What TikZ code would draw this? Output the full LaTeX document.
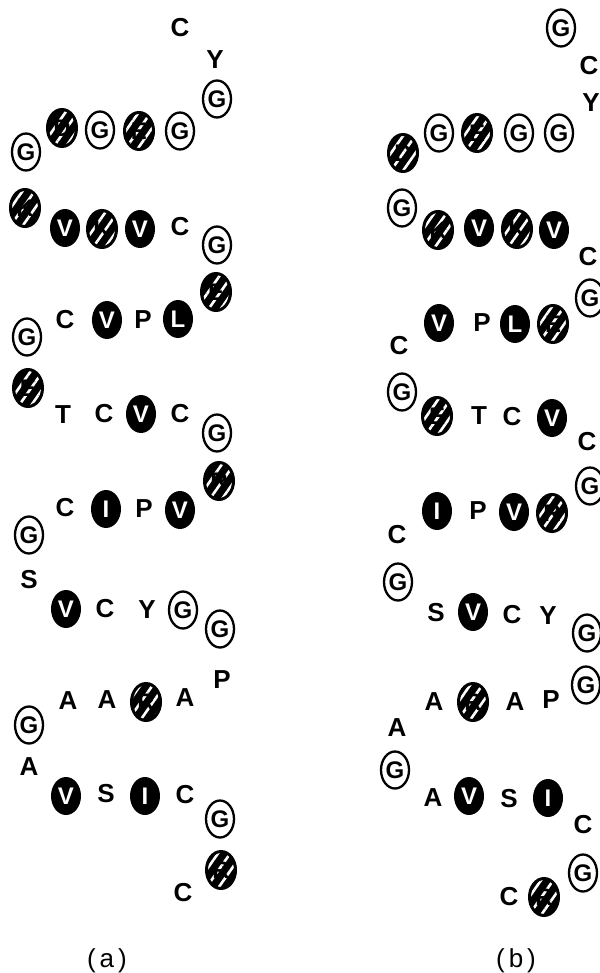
\documentclass[tikz,border=0pt]{standalone}
\usepackage{fontspec}
\setmainfont{Liberation Sans}
\usetikzlibrary{shapes.geometric,patterns.meta}
\newcommand{\ltfont}{\fontsize{26}{26}\selectfont\bfseries}
\newcommand{\infont}{\fontsize{24}{24}\selectfont\bfseries}
\newcommand{\lbfont}{\fontsize{26}{26}\selectfont}
\tikzset{
  lt/.style={font=\ltfont, inner sep=0pt},
  cg/.style={ellipse, draw, line width=2.3pt, minimum width=28pt, minimum height=37pt, inner sep=0pt, font=\infont},
  fb/.style={ellipse, fill=black, text=white, minimum width=30pt, minimum height=38pt, inner sep=0pt, font=\infont},
  hb/.style={ellipse, preaction={fill=black}, pattern={Lines[angle=55,distance=10pt,line width=2.6pt]}, pattern color=white, draw, line width=3pt, minimum width=29pt, minimum height=37pt, inner sep=0pt, font=\infont},
  lbl/.style={font=\lbfont, inner sep=0pt}
}
\begin{document}
\begin{tikzpicture}[x=1pt,y=-1pt]
\useasboundingbox (0,0) rectangle (599,973);
% ---------------- panel (a)
\node[lt] (a1) at (180,28) {C};
\node[lt] (a2) at (215,60) {Y};
\node[cg] (a3) at (217,99) {G};
\node[cg] (a4) at (180,131) {G};
\node[hb] (a5) at (139,131) {E};
\node[cg] (a6) at (100,130) {G};
\node[hb] (a7) at (62,128) {D};
\node[cg] (a8) at (26,152) {G};
\node[hb] (a9) at (25,208) {K};
\node[fb] (a10) at (65,228) {V};
\node[hb] (a11) at (102,229) {K};
\node[fb] (a12) at (140,229) {V};
\node[lt] (a13) at (180,227) {C};
\node[cg] (a14) at (217,245) {G};
\node[hb] (a15) at (216,292) {E};
\node[fb] (a16) at (178,319) {L};
\node[lt] (a17) at (143,320) {P};
\node[fb] (a18) at (107,320) {V};
\node[lt] (a19) at (65,320) {C};
\node[cg] (a20) at (27,337) {G};
\node[hb] (a21) at (28,388) {E};
\node[lt] (a22) at (63,415) {T};
\node[lt] (a23) at (104,414) {C};
\node[fb] (a24) at (141,414) {V};
\node[lt] (a25) at (180,414) {C};
\node[cg] (a26) at (217,433) {G};
\node[hb] (a27) at (219,481) {R};
\node[fb] (a28) at (180,510) {V};
\node[lt] (a29) at (144,509) {P};
\node[fb] (a30) at (106,509) {I};
\node[lt] (a31) at (65,508) {C};
\node[cg] (a32) at (29,535) {G};
\node[lt] (a33) at (29,580) {S};
\node[fb] (a34) at (66,609) {V};
\node[lt] (a35) at (105,609) {C};
\node[lt] (a36) at (147,610) {Y};
\node[cg] (a37) at (183,610) {G};
\node[cg] (a38) at (220,629) {G};
\node[lt] (a39) at (222,680) {P};
\node[lt] (a40) at (185,698) {A};
\node[hb] (a41) at (146,702) {R};
\node[lt] (a42) at (107,700) {A};
\node[lt] (a43) at (68,701) {A};
\node[cg] (a44) at (29,725) {G};
\node[lt] (a45) at (29,767) {A};
\node[fb] (a46) at (66,796) {V};
\node[lt] (a47) at (106,794) {S};
\node[fb] (a48) at (145,796) {I};
\node[lt] (a49) at (185,795) {C};
\node[cg] (a50) at (220,819) {G};
\node[hb] (a51) at (221,870) {R};
\node[lt] (a52) at (183,893) {C};
\node[lbl] (la) at (107,961) {(\hspace{4pt}a\hspace{4pt})};
% ---------------- panel (b)
\node[cg] (b1) at (561,28) {G};
\node[lt] (b2) at (589,66) {C};
\node[lt] (b3) at (591,103) {Y};
\node[cg] (b4) at (559,133) {G};
\node[cg] (b5) at (519,133) {G};
\node[hb] (b6) at (477,133) {E};
\node[cg] (b7) at (439,133) {G};
\node[hb] (b8) at (403,153) {D};
\node[cg] (b9) at (402,208) {G};
\node[hb] (b10) at (438,230) {K};
\node[fb] (b11) at (479,228) {V};
\node[hb] (b12) at (517,229) {K};
\node[fb] (b13) at (554,230) {V};
\node[lt] (b14) at (588,257) {C};
\node[cg] (b15) at (590,298) {G};
\node[hb] (b16) at (553,324) {E};
\node[fb] (b17) at (515,324) {L};
\node[lt] (b18) at (482,323) {P};
\node[fb] (b19) at (439,323) {V};
\node[lt] (b20) at (399,346) {C};
\node[cg] (b21) at (402,392) {G};
\node[hb] (b22) at (437,416) {E};
\node[lt] (b23) at (479,416) {T};
\node[lt] (b24) at (512,417) {C};
\node[fb] (b25) at (552,418) {V};
\node[lt] (b26) at (587,442) {C};
\node[cg] (b27) at (590,486) {G};
\node[hb] (b28) at (552,513) {R};
\node[fb] (b29) at (514,512) {V};
\node[lt] (b30) at (478,511) {P};
\node[fb] (b31) at (437,511) {I};
\node[lt] (b32) at (397,535) {C};
\node[cg] (b33) at (398,582) {G};
\node[lt] (b34) at (436,613) {S};
\node[fb] (b35) at (473,612) {V};
\node[lt] (b36) at (512,615) {C};
\node[lt] (b37) at (548,616) {Y};
\node[cg] (b38) at (587,633) {G};
\node[cg] (b39) at (586,685) {G};
\node[lt] (b40) at (551,700) {P};
\node[lt] (b41) at (515,702) {A};
\node[hb] (b42) at (473,702) {R};
\node[lt] (b43) at (434,702) {A};
\node[lt] (b44) at (397,728) {A};
\node[cg] (b45) at (395,770) {G};
\node[lt] (b46) at (433,798) {A};
\node[fb] (b47) at (469,796) {V};
\node[lt] (b48) at (509,799) {S};
\node[fb] (b49) at (548,798) {I};
\node[lt] (b50) at (583,825) {C};
\node[cg] (b51) at (583,873) {G};
\node[hb] (b52) at (544,897) {R};
\node[lt] (b53) at (509,897) {C};
\node[lbl] (lb) at (516,961) {(\hspace{4pt}b\hspace{4pt})};
\end{tikzpicture}
\end{document}
